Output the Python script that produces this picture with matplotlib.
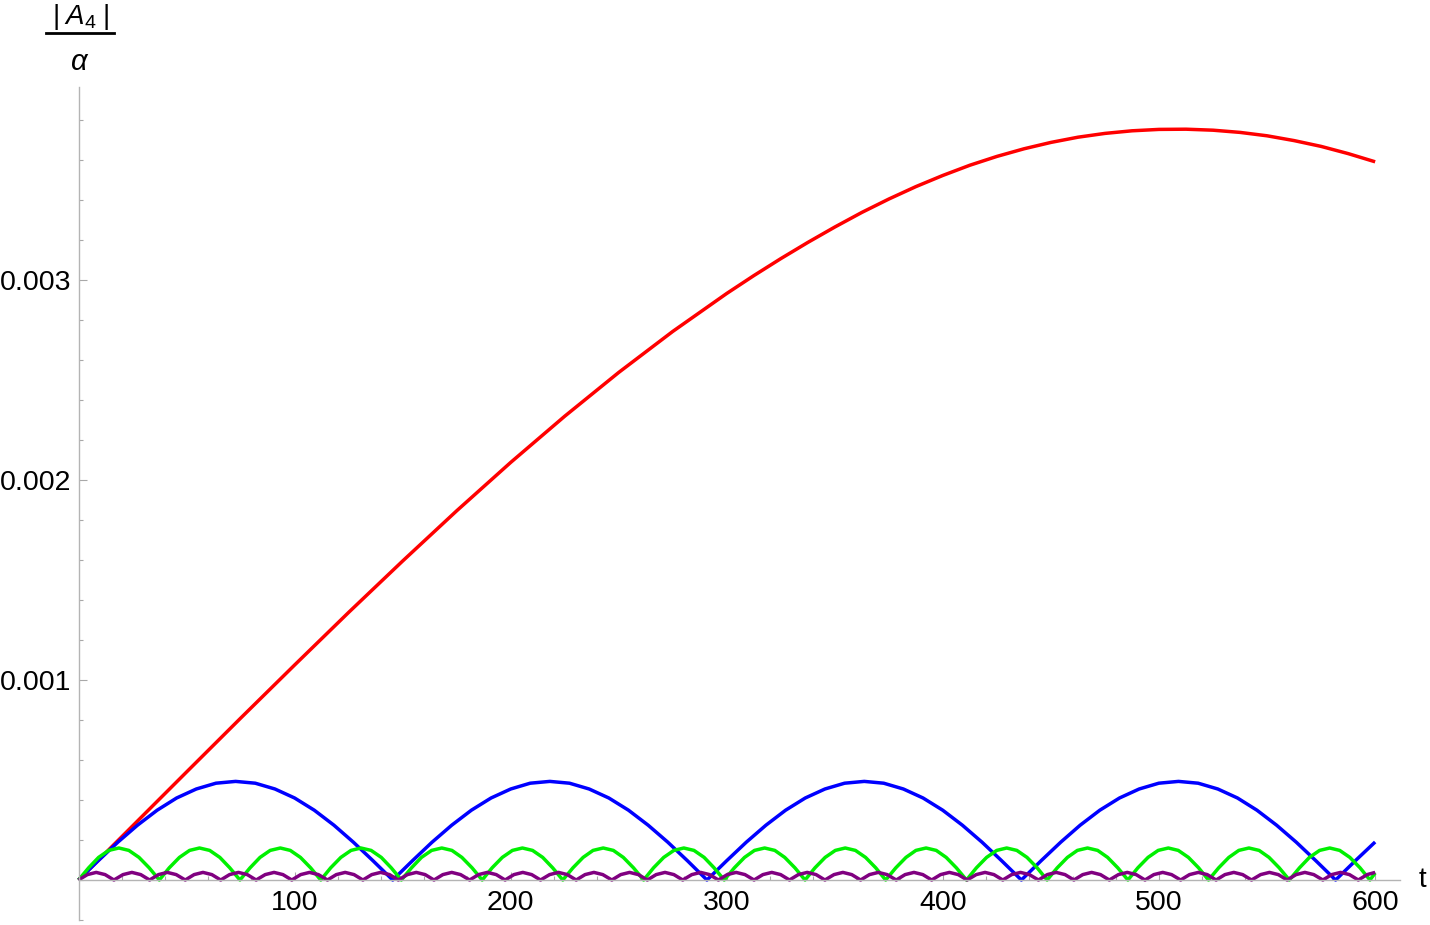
import matplotlib
matplotlib.use("Agg")
import matplotlib.pyplot as plt
from matplotlib.lines import Line2D
from matplotlib.ticker import FixedLocator, MultipleLocator
import numpy as np

plt.rcParams['font.family'] = ['Liberation Sans', 'DejaVu Sans']
plt.rcParams['mathtext.fontset'] = 'custom'
plt.rcParams['mathtext.rm'] = 'Liberation Sans'
plt.rcParams['mathtext.it'] = 'Liberation Sans:italic'

# ---------------- data ----------------
x_ticks = [100, 200, 300, 400, 500, 600]
x_tick_labels = ['100', '200', '300', '400', '500', '600']
y_ticks = [0.001, 0.002, 0.003]
y_tick_labels = ['0.001', '0.002', '0.003']
x_label = 't'
y_label_num = r'$|\;A_4\;|$'
y_label_den = r'$\alpha$'

# red series (values in units of 1e-3)
red_t = [0, 25, 50, 75, 100, 125, 150, 175, 200, 225, 250, 275, 300,
         312.5, 325, 337.5, 350, 362.5, 375, 387.5, 400, 412.5, 425, 437.5, 450,
         462.5, 475, 487.5, 500, 512.5, 525, 537.5, 550, 562.5, 575, 587.5, 600]
red_v = [0.000, 0.270, 0.540, 0.809, 1.075, 1.338, 1.595, 1.846, 2.088, 2.319, 2.538, 2.743, 2.933,
         3.022, 3.107, 3.188, 3.265, 3.338, 3.405, 3.467, 3.523, 3.574, 3.618, 3.656, 3.688,
         3.714, 3.733, 3.746, 3.753, 3.754, 3.749, 3.738, 3.721, 3.697, 3.668, 3.632, 3.591]

# blue series (values in units of 1e-4)
blue_t = [0.0, 9.1, 18.2, 27.3, 36.4, 45.4, 54.5, 63.6, 72.7, 81.8, 90.9, 100.0, 109.1, 118.2, 127.2, 136.3,
          145.4, 154.5, 163.6, 172.7, 181.8, 190.9, 200.0, 209.0, 218.1, 227.2, 236.3, 245.4, 254.5, 263.6, 272.7, 281.8,
          290.8, 299.9, 309.0, 318.1, 327.2, 336.3, 345.4, 354.5, 363.6, 372.6, 381.7, 390.8, 399.9, 409.0, 418.1, 427.2,
          436.3, 445.4, 454.5, 463.5, 472.6, 481.7, 490.8, 499.9, 509.0, 518.1, 527.2, 536.3, 545.3, 554.4, 563.5, 572.6,
          581.7, 590.8, 600.0]
blue_v = [0, 0.96, 1.89, 2.74, 3.49, 4.10, 4.55, 4.84, 4.93, 4.84, 4.55, 4.10, 3.49, 2.74, 1.89, 0.96,
          0, 0.96, 1.89, 2.74, 3.49, 4.10, 4.55, 4.84, 4.93, 4.84, 4.55, 4.10, 3.49, 2.74, 1.89, 0.96,
          0, 0.96, 1.89, 2.74, 3.49, 4.10, 4.55, 4.84, 4.93, 4.84, 4.55, 4.10, 3.49, 2.74, 1.89, 0.96,
          0, 0.96, 1.89, 2.74, 3.49, 4.10, 4.55, 4.84, 4.93, 4.84, 4.55, 4.10, 3.49, 2.74, 1.89, 0.96,
          0, 0.96, 1.90]

# green series (values in units of 1e-4)
green_t = [0.0, 4.7, 9.3, 14.0, 18.7, 23.3, 28.0, 32.7,
           37.4, 42.0, 46.7, 51.4, 56.0, 60.7, 65.4, 70.0,
           74.7, 79.4, 84.0, 88.7, 93.4, 98.0, 102.7, 107.4,
           112.1, 116.7, 121.4, 126.1, 130.7, 135.4, 140.1, 144.7,
           149.4, 154.1, 158.7, 163.4, 168.1, 172.8, 177.4, 182.1,
           186.8, 191.4, 196.1, 200.8, 205.4, 210.1, 214.8, 219.4,
           224.1, 228.8, 233.5, 238.1, 242.8, 247.5, 252.1, 256.8,
           261.5, 266.1, 270.8, 275.5, 280.1, 284.8, 289.5, 294.1,
           298.8, 303.5, 308.2, 312.8, 317.5, 322.2, 326.8, 331.5,
           336.2, 340.8, 345.5, 350.2, 354.8, 359.5, 364.2, 368.9,
           373.5, 378.2, 382.9, 387.5, 392.2, 396.9, 401.5, 406.2,
           410.9, 415.5, 420.2, 424.9, 429.5, 434.2, 438.9, 443.6,
           448.2, 452.9, 457.6, 462.2, 466.9, 471.6, 476.2, 480.9,
           485.6, 490.2, 494.9, 499.6, 504.3, 508.9, 513.6, 518.3,
           522.9, 527.6, 532.3, 536.9, 541.6, 546.3, 550.9, 555.6,
           560.3, 565.0, 569.6, 574.3, 579.0, 583.6, 588.3, 593.0,
           597.6, 600.0]
green_v = [0, 0.61, 1.13, 1.48, 1.60, 1.48, 1.13, 0.61,
           0, 0.61, 1.13, 1.48, 1.60, 1.48, 1.13, 0.61,
           0, 0.61, 1.13, 1.48, 1.60, 1.48, 1.13, 0.61,
           0, 0.61, 1.13, 1.48, 1.60, 1.48, 1.13, 0.61,
           0, 0.61, 1.13, 1.48, 1.60, 1.48, 1.13, 0.61,
           0, 0.61, 1.13, 1.48, 1.60, 1.48, 1.13, 0.61,
           0, 0.61, 1.13, 1.48, 1.60, 1.48, 1.13, 0.61,
           0, 0.61, 1.13, 1.48, 1.60, 1.48, 1.13, 0.61,
           0, 0.61, 1.13, 1.48, 1.60, 1.48, 1.13, 0.61,
           0, 0.61, 1.13, 1.48, 1.60, 1.48, 1.13, 0.61,
           0, 0.61, 1.13, 1.48, 1.60, 1.48, 1.13, 0.61,
           0, 0.61, 1.13, 1.48, 1.60, 1.48, 1.13, 0.61,
           0, 0.61, 1.13, 1.48, 1.60, 1.48, 1.13, 0.61,
           0, 0.61, 1.13, 1.48, 1.60, 1.48, 1.13, 0.61,
           0, 0.61, 1.13, 1.48, 1.60, 1.48, 1.13, 0.61,
           0, 0.61, 1.13, 1.48, 1.60, 1.48, 1.13, 0.61,
           0, 0.35]

# purple series (values in units of 1e-5)
purple_t = [0.0, 4.1, 8.2, 12.3, 16.4, 20.6, 24.7, 28.8, 32.9, 37.0, 41.1, 45.2,
            49.4, 53.5, 57.6, 61.7, 65.8, 69.9, 74.0, 78.1, 82.2, 86.4, 90.5, 94.6,
            98.7, 102.8, 106.9, 111.0, 115.2, 119.3, 123.4, 127.5, 131.6, 135.7, 139.8, 143.9,
            148.0, 152.2, 156.3, 160.4, 164.5, 168.6, 172.7, 176.8, 181.0, 185.1, 189.2, 193.3,
            197.4, 201.5, 205.6, 209.7, 213.8, 218.0, 222.1, 226.2, 230.3, 234.4, 238.5, 242.6,
            246.8, 250.9, 255.0, 259.1, 263.2, 267.3, 271.4, 275.5, 279.6, 283.8, 287.9, 292.0,
            296.1, 300.2, 304.3, 308.4, 312.6, 316.7, 320.8, 324.9, 329.0, 333.1, 337.2, 341.3,
            345.4, 349.6, 353.7, 357.8, 361.9, 366.0, 370.1, 374.2, 378.4, 382.5, 386.6, 390.7,
            394.8, 398.9, 403.0, 407.1, 411.2, 415.4, 419.5, 423.6, 427.7, 431.8, 435.9, 440.0,
            444.2, 448.3, 452.4, 456.5, 460.6, 464.7, 468.8, 472.9, 477.0, 481.2, 485.3, 489.4,
            493.5, 497.6, 501.7, 505.8, 510.0, 514.1, 518.2, 522.3, 526.4, 530.5, 534.6, 538.7,
            542.8, 547.0, 551.1, 555.2, 559.3, 563.4, 567.5, 571.6, 575.8, 579.9, 584.0, 588.1,
            592.2, 596.3, 600.0]
purple_v = [0, 2.7, 3.8, 2.7, 0, 2.7, 3.8, 2.7, 0, 2.7, 3.8, 2.7,
            0, 2.7, 3.8, 2.7, 0, 2.7, 3.8, 2.7, 0, 2.7, 3.8, 2.7,
            0, 2.7, 3.8, 2.7, 0, 2.7, 3.8, 2.7, 0, 2.7, 3.8, 2.7,
            0, 2.7, 3.8, 2.7, 0, 2.7, 3.8, 2.7, 0, 2.7, 3.8, 2.7,
            0, 2.7, 3.8, 2.7, 0, 2.7, 3.8, 2.7, 0, 2.7, 3.8, 2.7,
            0, 2.7, 3.8, 2.7, 0, 2.7, 3.8, 2.7, 0, 2.7, 3.8, 2.7,
            0, 2.7, 3.8, 2.7, 0, 2.7, 3.8, 2.7, 0, 2.7, 3.8, 2.7,
            0, 2.7, 3.8, 2.7, 0, 2.7, 3.8, 2.7, 0, 2.7, 3.8, 2.7,
            0, 2.7, 3.8, 2.7, 0, 2.7, 3.8, 2.7, 0, 2.7, 3.8, 2.7,
            0, 2.7, 3.8, 2.7, 0, 2.7, 3.8, 2.7, 0, 2.7, 3.8, 2.7,
            0, 2.7, 3.8, 2.7, 0, 2.7, 3.8, 2.7, 0, 2.7, 3.8, 2.7,
            0, 2.7, 3.8, 2.7, 0, 2.7, 3.8, 2.7, 0, 2.7, 3.8, 2.7,
            0, 2.7, 3.8]

series = [
    (red_t, np.array(red_v) * 1e-3, '#ff0000'),
    (blue_t, np.array(blue_v) * 1e-4, '#0000ff'),
    (green_t, np.array(green_v) * 1e-4, '#00f000'),
    (purple_t, np.array(purple_v) * 1e-5, '#800080'),
]

# ---------------- figure ----------------
W, H = 1430, 925
fig = plt.figure(figsize=(W / 100, H / 100), dpi=100)
x0_px, x1_px = 78.5, 1400.0
ytop_px, ybot_px = 87.0, 920.0
ax = fig.add_axes([x0_px / W, (H - ybot_px) / H, (x1_px - x0_px) / W, (ybot_px - ytop_px) / H])
ax.set_xlim(0, 611.5)
ax.set_ylim(-0.0002, 0.003965)

for t, v, c in series:
    ax.plot(t, v, color=c, lw=2.5, solid_joinstyle='round', solid_capstyle='butt', clip_on=False)

axis_col = '#b4b4b4'
for s in ['top', 'right']:
    ax.spines[s].set_visible(False)
ax.spines['left'].set_position(('data', 0))
ax.spines['bottom'].set_position(('data', 0))
for s in ['left', 'bottom']:
    ax.spines[s].set_color(axis_col)
    ax.spines[s].set_linewidth(1.0)
ax.spines['bottom'].set_bounds(0, 611.5)

ax.xaxis.set_major_locator(FixedLocator(x_ticks))
ax.set_xticklabels(x_tick_labels)
ax.xaxis.set_minor_locator(MultipleLocator(20))
ax.yaxis.set_major_locator(FixedLocator(y_ticks))
ax.set_yticklabels(y_tick_labels)
ax.yaxis.set_minor_locator(MultipleLocator(0.0002))

ax.tick_params(which='both', direction='in', color='#a8a8a8', width=0.8, labelsize=20.5)
ax.tick_params(which='major', length=5.5)
ax.tick_params(which='minor', length=3.2)
ax.tick_params(axis='x', pad=7)
ax.tick_params(axis='y', pad=5)

# axis labels
fig.text(1422 / W, 1 - 880 / H, x_label, ha='center', va='center', fontsize=20)
fig.text(80 / W, 1 - 17 / H, y_label_num, ha='center', va='center', fontsize=20)
fig.add_artist(Line2D([46 / W, 114 / W], [1 - 33 / H, 1 - 33 / H], color='black', lw=2.0))
fig.text(80 / W, 1 - 62 / H, y_label_den, ha='center', va='center', fontsize=21)

fig.savefig('out.png', dpi=100)
